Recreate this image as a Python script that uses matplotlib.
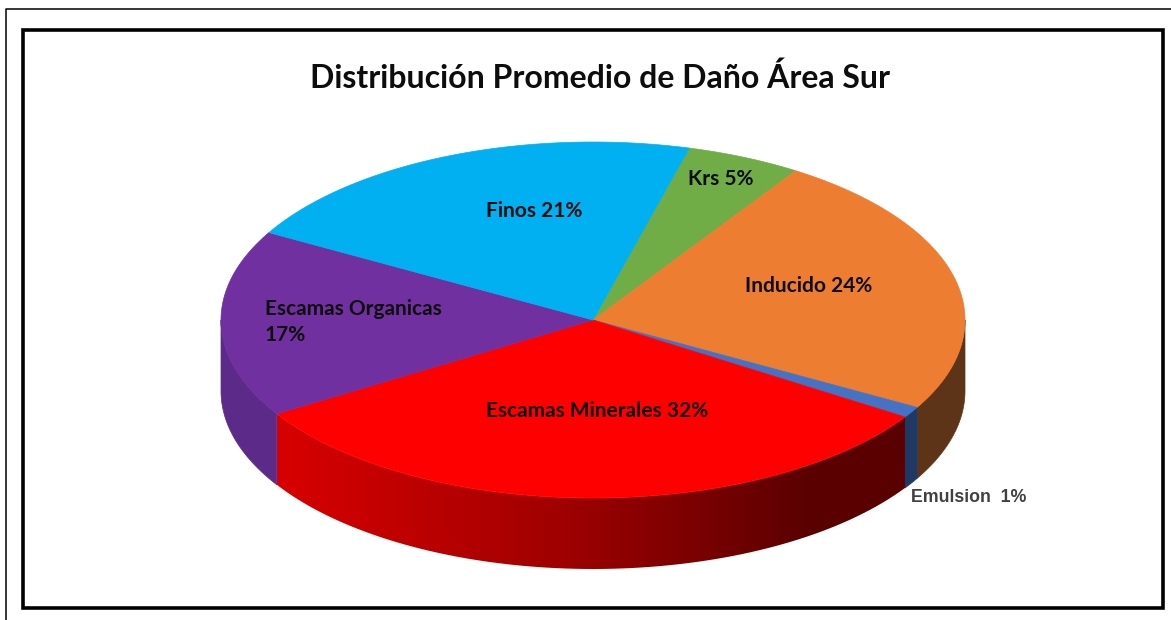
import numpy as np
import matplotlib.pyplot as plt
from matplotlib.patches import Polygon, Rectangle
from matplotlib.colors import LinearSegmentedColormap

# datos del grafico (orden horario, empezando en Krs)
categorias = ['Krs', 'Inducido', 'Emulsion', 'Escamas Minerales', 'Escamas Organicas', 'Finos']
porcentajes = [5, 24, 1, 32, 17, 21]
colores_sup = ['#70AD47', '#ED7D31', '#4472C4', '#FF0000', '#7030A0', '#00B0F0']
colores_lado = ['#3E6127', '#5E3418', '#1F3864', '#A00000', '#5C2A88', '#005F86']

# geometria del pastel 3D (pixeles)
cx, cy = 593, 320
rx, ry = 372, 178
alto = 71
ang_ini = 75.0

# posicion de cada etiqueta (x, y, alineacion)
pos_etq = [(721, 179, 'center'), (809, 286, 'center'), (911, 497, 'left'),
           (597, 411, 'center'), (265, 322, 'left'), (534, 211, 'center')]

plt.rcParams['font.family'] = ['Lato', 'DejaVu Sans']

fig = plt.figure(figsize=(11.71, 6.2), dpi=100)
ax = fig.add_axes([0, 0, 1, 1])
ax.axis('off')


def arco(t0, t1, n=80, dy=0):
    t = np.radians(np.linspace(t0, t1, n))
    return np.column_stack([cx + rx * np.cos(t), cy - ry * np.sin(t) + dy])


# angulos de cada porcion
fr = np.array(porcentajes) / sum(porcentajes)
fin = ang_ini - 360 * np.cumsum(fr)
ini = np.concatenate([[ang_ini], fin[:-1]])

# caras laterales (solo la parte frontal, angulos entre -180 y 0)
for i in range(len(categorias)):
    hi = min(ini[i], 0)
    lo = max(fin[i], -180)
    if hi <= lo:
        continue
    sup = arco(hi, lo)
    inf = arco(lo, hi, dy=alto)
    pts = np.vstack([sup, inf])
    if categorias[i] == 'Escamas Minerales':
        poly = Polygon(pts, closed=True, facecolor='none', edgecolor='none')
        ax.add_patch(poly)
        cmap = LinearSegmentedColormap.from_list(
            'rojo', [(0, '#D80000'), (0.45, '#A00000'), (0.85, '#5A0000'), (1, '#5A0000')])
        x0, x1 = pts[:, 0].min(), pts[:, 0].max()
        y0, y1 = pts[:, 1].min(), pts[:, 1].max()
        grad = np.linspace(0, 1, 256).reshape(1, -1)
        im = ax.imshow(grad, cmap=cmap, extent=(x0, x1, y1, y0), aspect='auto',
                       interpolation='bilinear', zorder=1)
        im.set_clip_path(poly)
    else:
        ax.add_patch(Polygon(pts, closed=True, facecolor=colores_lado[i],
                             edgecolor=colores_lado[i], lw=0.5, zorder=1))

# caras superiores
for i in range(len(categorias)):
    pts = np.vstack([[cx, cy], arco(ini[i], fin[i])])
    ax.add_patch(Polygon(pts, closed=True, facecolor=colores_sup[i],
                         edgecolor=colores_sup[i], lw=0.5, zorder=2))

# etiquetas
for i, c in enumerate(categorias):
    x, y, ha = pos_etq[i]
    if c == 'Escamas Organicas':
        txt = f'{c}\n{porcentajes[i]}%'
    elif c == 'Emulsion':
        txt = f'{c}  {porcentajes[i]}%'
    else:
        txt = f'{c} {porcentajes[i]}%'
    if c == 'Emulsion':
        ax.text(x, y, txt, ha=ha, va='center', fontsize=12.8, fontweight='bold',
                color='#404040', family=['Liberation Sans', 'DejaVu Sans'], zorder=3)
    else:
        ax.text(x, y, txt, ha=ha, va='center', fontsize=15, fontweight='bold',
                color='#0D0D0D', linespacing=1.4, zorder=3)

ax.text(600, 78, 'Distribución Promedio de Daño Área Sur', ha='center', va='center',
        fontsize=23, fontweight='bold', color='#0D0D0D')

# marcos
ax.plot([6, 6, 1171], [620, 9, 9], color='black', lw=1.1, solid_capstyle='butt')
ax.add_patch(Rectangle((23, 30), 1140, 578, facecolor='none', edgecolor='black', lw=2.6))

ax.set_xlim(0, 1171)
ax.set_ylim(620, 0)

fig.savefig('out.png', dpi=100)
